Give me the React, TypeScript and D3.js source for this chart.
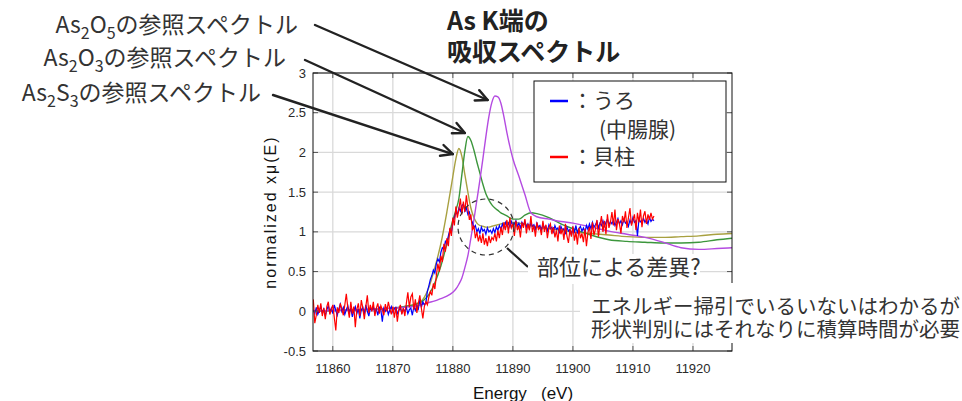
import React from 'react';
import * as d3 from 'd3';

const W = 962;
const H = 401;

// Axis ticks
const xTicks = [11860, 11870, 11880, 11890, 11900, 11910, 11920];
const yTicks = [-0.5, 0, 0.5, 1, 1.5, 2, 2.5, 3];
const yTickLabels = ['-0.5', '0', '0.5', '1', '1.5', '2', '2.5', '3'];

// Measured spectra: energy grid start / step (eV)
const scanStart = 11856.75;
const scanStep = 0.25;

// うろ (中腸腺)
const uroValues = [
  0.02, -0.03, 0.05, -0.04, 0.01, 0.06, -0.02, 0.03, -0.06, 0.02, 0.07, -0.01, 0.04, -0.03, 0.08, 0.01, -0.05, 0.03, 0.09, 0.0,
  0.05, -0.04, 0.02, 0.07, -0.02, 0.04, -0.07, 0.01, 0.06, -0.03, 0.03, -0.09, 0.02, 0.05, -0.04, 0.08, 0.0, -0.06, 0.04, 0.01,
  0.06, -0.02, 0.03, -0.05, 0.05, 0.02, -0.13, 0.04, 0.0, 0.04, -0.04, 0.02, 0.06, -0.01, 0.03, 0.05, -0.03, 0.01, 0.04, -0.02,
  0.03, 0.0, 0.05, -0.03, 0.02, 0.04, -0.05, 0.06, 0.01, 0.07, 0.03, 0.15, 0.05, 0.12, 0.08, 0.1, 0.25, 0.32, 0.4, 0.45,
  0.52, 0.48, 0.6, 0.66, 0.62, 0.74, 0.8, 0.78, 0.88, 0.85, 0.95, 1.02, 0.98, 1.12, 1.18, 1.25, 1.22, 1.3, 1.26, 1.33,
  1.35, 1.26, 1.3, 1.22, 1.25, 1.16, 1.12, 1.05, 1.08, 1.0, 1.04, 0.98, 1.06, 1.01, 1.03, 0.97, 1.05, 1.0, 1.02, 0.98,
  1.04, 0.99, 1.06, 1.02, 1.08, 1.03, 1.1, 1.05, 1.12, 1.07, 1.11, 1.06, 1.13, 1.08, 1.1, 1.14, 1.07, 1.11, 1.05, 1.12,
  1.08, 1.13, 1.06, 1.1, 1.04, 1.12, 1.07, 1.09, 1.03, 1.11, 1.06, 1.08, 1.02, 1.1, 1.05, 1.07, 1.01, 1.09, 1.04, 1.06,
  1.0, 1.08, 1.03, 1.05, 0.98, 1.07, 1.02, 1.04, 0.97, 1.06, 1.01, 1.03, 0.96, 1.05, 1.0, 1.08, 0.98, 1.04, 1.07, 1.01,
  1.05, 0.99, 1.08, 1.03, 1.1, 1.04, 1.12, 1.06, 1.09, 1.13, 1.05, 1.11, 1.08, 1.14, 1.07, 1.12, 1.16, 1.09, 1.13, 1.1,
  1.15, 1.08, 1.12, 1.17, 1.1, 1.14, 1.09, 1.16, 1.11, 1.13, 1.07, 1.15, 1.1, 1.18, 1.12, 1.14, 0.95, 1.16, 1.13, 1.11,
  1.17, 1.12, 1.15, 1.1, 1.18, 1.13, 1.16, 1.14,
];

// 貝柱
const kaibashiraValues = [
  0.15, -0.15, -0.05, 0.08, -0.02, 0.1, -0.06, 0.04, -0.1, 0.06, 0.12, -0.04, 0.02, 0.08, -0.08, -0.24, 0.05, -0.02, 0.1, 0.03,
  -0.05, 0.08, 0.22, 0.04, -0.08, 0.12, -0.03, 0.06, -0.2, 0.02, 0.1, -0.06, 0.14, 0.04, -0.1, 0.06, 0.2, -0.02, 0.08, 0.0,
  0.12, -0.06, 0.04, 0.1, -0.03, 0.07, 0.02, -0.05, 0.09, 0.0, 0.12, 0.03, -0.04, 0.06, -0.08, 0.05, -0.13, 0.02, 0.08, -0.04,
  0.04, -0.06, 0.1, 0.24, 0.05, 0.18, 0.22, 0.02, 0.15, -0.02, 0.1, 0.2, 0.04, -0.09, 0.06, 0.12, 0.08, 0.18, 0.25, 0.2,
  0.35, 0.28, 0.45, 0.6, 0.5, 0.7, 0.62, 0.85, 0.75, 0.92, 0.82, 1.05, 0.95, 1.18, 1.08, 1.32, 1.18, 1.28, 1.42, 1.22,
  1.38, 1.25, 1.46, 1.3, 1.15, 1.22, 1.02, 1.08, 0.92, 1.0, 0.88, 0.96, 0.86, 0.98, 0.84, 0.92, 0.82, 0.95, 0.86, 0.93,
  0.9, 0.98, 0.88, 1.02, 0.92, 1.06, 0.96, 1.12, 1.02, 1.15, 0.98, 1.18, 1.05, 1.1, 0.95, 1.14, 1.02, 1.08, 0.93, 1.12,
  1.05, 1.16, 0.98, 1.1, 1.02, 1.2, 1.0, 1.08, 0.94, 1.12, 1.03, 1.06, 0.96, 1.14, 1.0, 1.09, 0.92, 1.05, 1.1, 0.97,
  1.06, 0.93, 1.02, 0.88, 1.08, 0.97, 1.04, 0.9, 1.1, 0.95, 0.86, 1.03, 0.94, 1.07, 0.89, 1.0, 0.84, 1.05, 0.92, 0.98,
  0.87, 1.04, 0.82, 0.99, 1.06, 0.91, 1.12, 0.96, 1.03, 1.15, 0.94, 1.08, 1.2, 1.0, 1.14, 0.97, 1.22, 1.05, 1.12, 1.25,
  1.08, 1.28, 1.02, 1.16, 1.1, 0.98, 1.2, 1.12, 1.26, 1.05, 1.18, 1.3, 1.08, 1.15, 1.22, 1.02, 1.24, 1.12, 1.28, 1.06,
  1.2, 1.26, 1.1, 1.22, 1.15, 1.24, 1.16, 1.2,
];

// Reference spectra share one energy grid (eV)
const refEnergy = [
  11856.7, 11860, 11865, 11868, 11870, 11872, 11874, 11875, 11876, 11877, 11878, 11879, 11880, 11880.5, 11881, 11881.5,
  11882, 11882.5, 11883, 11883.5, 11884, 11884.5, 11885, 11885.5, 11886, 11886.5, 11887, 11887.5, 11888, 11888.5, 11889,
  11890, 11891, 11892, 11893, 11894, 11896, 11898, 11900, 11903, 11906, 11909, 11912, 11915, 11918, 11921, 11924, 11926.5,
];
const as2s3 = [
  0.0, 0.01, 0.02, 0.03, 0.04, 0.06, 0.1, 0.15, 0.3, 0.55, 0.85, 1.25, 1.7, 1.92, 2.05, 1.95,
  1.72, 1.5, 1.3, 1.18, 1.11, 1.08, 1.07, 1.06, 1.06, 1.07, 1.08, 1.09, 1.1, 1.11, 1.12,
  1.12, 1.11, 1.1, 1.08, 1.06, 1.04, 1.02, 1.0, 0.98, 0.96, 0.94, 0.93, 0.93, 0.94, 0.95, 0.97, 0.98,
];
const as2o3 = [
  0.0, 0.01, 0.02, 0.03, 0.04, 0.06, 0.09, 0.13, 0.21, 0.36, 0.57, 0.85, 1.15, 1.27, 1.42, 1.72,
  2.02, 2.2, 2.15, 2.03, 1.88, 1.74, 1.6, 1.48, 1.4, 1.34, 1.3, 1.27, 1.24, 1.22, 1.2,
  1.16, 1.16, 1.21, 1.24, 1.23, 1.18, 1.1, 1.04, 0.96, 0.9, 0.88, 0.87, 0.86, 0.86, 0.87, 0.9, 0.92,
];
const as2o5 = [
  0.0, 0.01, 0.02, 0.03, 0.04, 0.05, 0.07, 0.09, 0.11, 0.13, 0.16, 0.19, 0.24, 0.28, 0.34, 0.42,
  0.55, 0.7, 0.92, 1.15, 1.4, 1.65, 1.92, 2.2, 2.45, 2.63, 2.71, 2.7, 2.62, 2.45, 2.25,
  1.92, 1.7, 1.47, 1.24, 1.19, 1.16, 1.13, 1.11, 1.06, 1.01, 0.97, 0.93, 0.87, 0.8, 0.78, 0.79, 0.8,
];

// Arrow tips placed in data space (energy, value)
const arrowTips = [
  { start: [315, 25], tip: [11885.8, 2.66] },
  { start: [305, 60], tip: [11882.0, 2.245] },
  { start: [273, 95], tip: [11880.0, 1.98] },
];

const PLOT = { left: 313, right: 732, top: 73, bottom: 351 };

const x = d3.scaleLinear().domain([11856.7, 11926.5]).range([PLOT.left, PLOT.right]);
const y = d3.scaleLinear().domain([-0.5, 3]).range([PLOT.bottom, PLOT.top]);

const scanLine = d3
  .line<number>()
  .x((_, i) => x(scanStart + i * scanStep))
  .y((v) => y(v));

const refLine = d3
  .line<number>()
  .x((_, i) => x(refEnergy[i]))
  .y((v) => y(v))
  .curve(d3.curveMonotoneX);

const CJK = '"Noto Sans CJK JP", "Noto Sans", sans-serif';
const NARROW = '"Liberation Sans Narrow", "Arial Narrow", "Liberation Sans", sans-serif';
const ARIAL = '"Liberation Sans", Arial, sans-serif';

function Arrow({ from, to }: { from: number[]; to: number[] }) {
  const dx = to[0] - from[0];
  const dy = to[1] - from[1];
  const ang = Math.atan2(dy, dx);
  const len = 13;
  const spread = 0.45;
  const p1 = [to[0] - len * Math.cos(ang - spread), to[1] - len * Math.sin(ang - spread)];
  const p2 = [to[0] - len * Math.cos(ang + spread), to[1] - len * Math.sin(ang + spread)];
  return (
    <g stroke="#222" strokeWidth={2.4} fill="none" strokeLinecap="round" strokeLinejoin="round">
      <line x1={from[0]} y1={from[1]} x2={to[0]} y2={to[1]} />
      <polyline points={`${p1[0]},${p1[1]} ${to[0]},${to[1]} ${p2[0]},${p2[1]}`} />
    </g>
  );
}

function RefLabel({ xEnd, baseline, a, b, c }: { xEnd: number; baseline: number; a: string; b: string; c: string }) {
  return (
    <text x={xEnd} y={baseline} textAnchor="end" fontFamily={CJK} fontSize={23} fill="#333">
      {a}
      <tspan dy={6} fontSize={16}>2</tspan>
      <tspan dy={-6}>{b}</tspan>
      <tspan dy={6} fontSize={16}>{c}</tspan>
      <tspan dy={-6}>の参照スペクトル</tspan>
    </text>
  );
}

export default function App() {
  return (
    <svg
      width={W}
      height={H}
      viewBox={`0 0 ${W} ${H}`}
      style={{ position: 'absolute', left: 0, top: 0, background: '#fff' }}
    >
      <defs>
        <clipPath id="plotClip">
          <rect x={PLOT.left} y={PLOT.top} width={PLOT.right - PLOT.left} height={PLOT.bottom - PLOT.top} />
        </clipPath>
      </defs>

      {/* grid */}
      <g stroke="#d9d9d9" strokeWidth={1.3}>
        {xTicks.map((t) => (
          <line key={`gx${t}`} x1={x(t)} x2={x(t)} y1={PLOT.top} y2={PLOT.bottom} />
        ))}
        {yTicks.map((t) => (
          <line key={`gy${t}`} x1={PLOT.left} x2={PLOT.right} y1={y(t)} y2={y(t)} />
        ))}
      </g>

      {/* spectra */}
      <g clipPath="url(#plotClip)" fill="none">
        <path d={refLine(as2s3) || ''} stroke="#a8a040" strokeWidth={1.4} />
        <path d={refLine(as2o3) || ''} stroke="#3c963c" strokeWidth={1.4} />
        <path d={refLine(as2o5) || ''} stroke="#b44be1" strokeWidth={1.4} />
        <path d={scanLine(uroValues) || ''} stroke="#0000ff" strokeWidth={1.2} />
        <path d={scanLine(kaibashiraValues) || ''} stroke="#ff0000" strokeWidth={1.2} />
      </g>

      {/* ticks (inward on all sides) */}
      <g stroke="#555" strokeWidth={1}>
        {xTicks.map((t) => (
          <g key={`tx${t}`}>
            <line x1={x(t)} x2={x(t)} y1={PLOT.bottom} y2={PLOT.bottom - 5} />
            <line x1={x(t)} x2={x(t)} y1={PLOT.top} y2={PLOT.top + 5} />
          </g>
        ))}
        {yTicks.map((t) => (
          <g key={`ty${t}`}>
            <line x1={PLOT.left} x2={PLOT.left + 5} y1={y(t)} y2={y(t)} />
            <line x1={PLOT.right} x2={PLOT.right - 5} y1={y(t)} y2={y(t)} />
          </g>
        ))}
      </g>
      <rect
        x={PLOT.left}
        y={PLOT.top}
        width={PLOT.right - PLOT.left}
        height={PLOT.bottom - PLOT.top}
        fill="none"
        stroke="#111"
        strokeWidth={1}
      />

      {/* tick labels */}
      <g fontFamily={NARROW} fontSize={13} fill="#2a2a2a">
        {xTicks.map((t) => (
          <text key={`lx${t}`} x={x(t)} y={373} textAnchor="middle">
            {t}
          </text>
        ))}
        {yTicks.map((t, i) => (
          <text key={`ly${t}`} x={306} y={y(t) + 4.5} textAnchor="end">
            {yTickLabels[i]}
          </text>
        ))}
      </g>

      {/* axis titles */}
      <text
        transform={`translate(276, 212) rotate(-90)`}
        textAnchor="middle"
        fontFamily={ARIAL}
        fontSize={16}
        letterSpacing={2}
        fill="#111"
      >
        normalized xμ(E)
      </text>
      <text y={399} fontFamily={ARIAL} fontSize={17} fill="#111">
        <tspan x={473}>Energy</tspan>
        <tspan x={541}>(eV)</tspan>
      </text>

      {/* legend */}
      <rect x={534} y={81} width={192} height={101} fill="#fff" stroke="#111" strokeWidth={1} />
      <line x1={550} x2={568} y1={101} y2={101} stroke="#0000ff" strokeWidth={2.5} />
      <line x1={550} x2={568} y1={157} y2={157} stroke="#ff0000" strokeWidth={2.5} />
      <g fontFamily={CJK} fontSize={21} fill="#333">
        <text x={572} y={108}>：うろ</text>
        <text x={599} y={137}>(中腸腺)</text>
        <text x={572} y={164}>：貝柱</text>
      </g>

      {/* title */}
      <g fontFamily={CJK} fontSize={25} fontWeight={700} fill="#222">
        <text x={447} y={30}>As K端の</text>
        <text x={447} y={61}>吸収スペクトル</text>
      </g>

      {/* reference labels and arrows */}
      <RefLabel xEnd={298} baseline={33} a="As" b="O" c="5" />
      <RefLabel xEnd={286} baseline={66} a="As" b="O" c="3" />
      <RefLabel xEnd={261} baseline={101} a="As" b="S" c="3" />
      {arrowTips.map((a, i) => (
        <Arrow key={i} from={a.start} to={[x(a.tip[0]), y(a.tip[1])]} />
      ))}

      {/* difference callout */}
      <ellipse cx={486} cy={227} rx={28} ry={28} fill="none" stroke="#333" strokeWidth={1.2} strokeDasharray="5,4" />
      <line x1={507} y1={248} x2={528} y2={267} stroke="#222" strokeWidth={2.2} />
      <rect x={528} y={254} width={172} height={30} fill="#fff" />
      <text x={537} y={275} fontFamily={CJK} fontSize={22} fill="#333">
        部位による差異?
      </text>

      <rect x={580} y={283} width={382} height={60} fill="#fff" />
      <g fontFamily={CJK} fontSize={20.5} fill="#333">
        <text x={591} y={314}>エネルギー掃引でいるいないはわかるが</text>
        <text x={591} y={337}>形状判別にはそれなりに積算時間が必要</text>
      </g>
    </svg>
  );
}
